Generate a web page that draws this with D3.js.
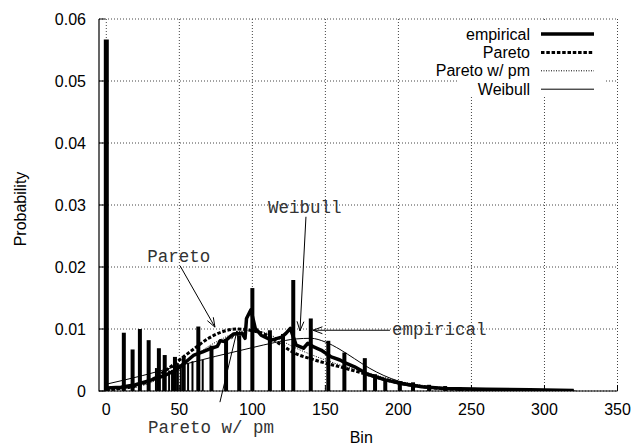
<!DOCTYPE html>
<html>
<head>
<meta charset="utf-8">
<script src="https://cdn.jsdelivr.net/npm/d3@7"></script>
<style>
body { margin: 0; background: #fff; }
</style>
</head>
<body>
<div id="chart"></div>
<script>
// empirical histogram, the smooth part of the curve
var emp_bins = [0, 10, 20, 30, 40, 47, 51, 56, 60, 66, 72, 76, 78, 81, 87, 93, 95, 96, 99, 102,
    106, 113, 120, 123, 126, 130, 135, 138, 142, 147, 154, 160, 164, 170, 179, 191, 202, 216, 232, 260, 290, 320]
var emp_values = [0.0005, 0.0006, 0.0010, 0.0017, 0.0025, 0.0033, 0.0040, 0.0050, 0.0058, 0.0063, 0.0069, 0.0072, 0.0081, 0.0080, 0.0092, 0.0093, 0.0085, 0.0117, 0.0131, 0.0101,
    0.0090, 0.0082, 0.0087, 0.0093, 0.0101, 0.0074, 0.0069, 0.0077, 0.0071, 0.0066, 0.0055, 0.0050, 0.0045, 0.0039, 0.0027, 0.0018, 0.0012, 0.0007, 0.0004, 0.0003, 0.0002, 0.0001]

// spikes of the empirical histogram (bins that collect a lot of mass)
var spike_bins = [0, 12, 18, 23, 29, 36, 40, 47, 53, 63, 72, 82, 91, 100, 112, 121, 128, 140, 152, 163,
    177, 184, 191, 201, 210, 221, 232, 242, 252, 262, 272, 282, 292, 302, 312, 320]
var spike_values = [0.0567, 0.0094, 0.0067, 0.0100, 0.0082, 0.0069, 0.0058, 0.0055, 0.0056, 0.0104, 0.0073, 0.0084, 0.0090, 0.0166, 0.0098, 0.0092, 0.0179, 0.0117, 0.0081, 0.0062,
    0.0053, 0.0027, 0.0019, 0.0016, 0.0014, 0.0010, 0.0008, 0.0006, 0.0005, 0.0004, 0.0003, 0.0003, 0.0002, 0.0002, 0.0002, 0.0001]
var minor_bins = [34, 39, 43, 45, 49, 51, 56, 59, 66]
var minor_values = [0.0037, 0.0030, 0.0033, 0.0034, 0.0045, 0.0040, 0.0045, 0.0048, 0.0050]

// fitted models
var fit_bins = [0, 10, 20, 30, 40, 50, 60, 70, 80, 90, 100, 110, 120, 130, 140, 150, 160, 175, 190, 200, 220, 250, 280, 320]
var pareto_values = [0.0002, 0.0004, 0.0008, 0.0017, 0.0032, 0.0050, 0.0068, 0.0085, 0.0096, 0.0100, 0.0097, 0.0090, 0.0074, 0.0060, 0.0052, 0.0045, 0.0039, 0.0029, 0.0019, 0.0013, 0.0006, 0.0002, 0.0001, 0.00003]
var pareto_pm_values = [0.0002, 0.0003, 0.0006, 0.0013, 0.0025, 0.0040, 0.0056, 0.0072, 0.0085, 0.0095, 0.0098, 0.0093, 0.0081, 0.0069, 0.0059, 0.0050, 0.0042, 0.0032, 0.0022, 0.0016, 0.0008, 0.0003, 0.0001, 0.00003]
var weibull_bins = [0, 25, 50, 75, 100, 115, 130, 140, 150, 160, 170, 180, 190, 200, 215, 230, 260, 290, 320]
var weibull_values = [0.0011, 0.0025, 0.0041, 0.0056, 0.0070, 0.0078, 0.0084, 0.0085, 0.0079, 0.0067, 0.0052, 0.0037, 0.0025, 0.0016, 0.0008, 0.0004, 0.0001, 0.00002, 0]

var x_ticks = [0, 50, 100, 150, 200, 250, 300, 350]
var y_ticks = [0, 0.01, 0.02, 0.03, 0.04, 0.05, 0.06]
var legend_names = ['empirical', 'Pareto', 'Pareto w/ pm', 'Weibull']

// labels with arrows, placed in data units: text start, arrow tail, arrow head
var notes = [
    { label: 'Pareto', tx: 28, ty: 0.0208, x1: 50.5, y1: 0.0202, x2: 74.4, y2: 0.0103 },
    { label: 'Weibull', tx: 110.7, ty: 0.0287, x1: 136.7, y1: 0.0281, x2: 132.6, y2: 0.0097 },
    { label: 'empirical', tx: 195.6, ty: 0.0090, x1: 194.2, y1: 0.0098, x2: 141.5, y2: 0.0098 },
    { label: 'Pareto w/ pm', tx: 28.6, ty: -0.0068, x1: 77.8, y1: -0.0018, x2: 89.5, y2: 0.0097 }
]

var width = 641, height = 446
var m_left = 99, m_right = 617.5, m_top = 19, m_bottom = 391

var svg = d3.select('#chart')
    .append('svg')
    .attr('width', width)
    .attr('height', height)
    .style('font-family', '"Liberation Sans", Arial, sans-serif')

var x = d3.scaleLinear().domain([-5, 350]).range([m_left, m_right])
var y = d3.scaleLinear().domain([0, 0.06]).range([m_bottom, m_top])

svg.append('clipPath').attr('id', 'clip')
    .append('rect')
    .attr('x', m_left).attr('y', m_top)
    .attr('width', m_right - m_left).attr('height', m_bottom - m_top)

// dotted grid (also makes the top and right edges)
svg.append('g').selectAll('line')
    .data(x_ticks)
    .enter()
    .append('line')
    .attr('x1', d => x(d)).attr('x2', d => x(d))
    .attr('y1', m_top).attr('y2', m_bottom)
    .attr('stroke', '#444')
    .attr('stroke-dasharray', '1,2')
svg.append('g').selectAll('line')
    .data(y_ticks)
    .enter()
    .append('line')
    .attr('x1', m_left).attr('x2', m_right)
    .attr('y1', d => y(d)).attr('y2', d => y(d))
    .attr('stroke', '#444')
    .attr('stroke-dasharray', '1,2')

var plot = svg.append('g').attr('clip-path', 'url(#clip)')

function curve_line(bins, values, curve) {
    return d3.line()
        .x(d => x(d[0]))
        .y(d => y(d[1]))
        .curve(curve)(d3.zip(bins, values))
}

// fitted models
plot.append('path')
    .attr('d', curve_line(weibull_bins, weibull_values, d3.curveMonotoneX))
    .attr('fill', 'none').attr('stroke', '#000').attr('stroke-width', 1)
plot.append('path')
    .attr('d', curve_line(fit_bins, pareto_pm_values, d3.curveMonotoneX))
    .attr('fill', 'none').attr('stroke', '#000').attr('stroke-width', 1)
    .attr('stroke-dasharray', '1,1.5')
plot.append('path')
    .attr('d', curve_line(fit_bins, pareto_values, d3.curveMonotoneX))
    .attr('fill', 'none').attr('stroke', '#000').attr('stroke-width', 3)
    .attr('stroke-dasharray', '3.5,1.8')

// empirical: spikes and curve
plot.append('g').selectAll('line')
    .data(d3.zip(minor_bins, minor_values))
    .enter()
    .append('line')
    .attr('x1', d => x(d[0])).attr('x2', d => x(d[0]))
    .attr('y1', y(0)).attr('y2', d => y(d[1]))
    .attr('stroke', '#000').attr('stroke-width', 2)
plot.append('g').selectAll('line')
    .data(d3.zip(spike_bins, spike_values))
    .enter()
    .append('line')
    .attr('x1', d => x(d[0])).attr('x2', d => x(d[0]))
    .attr('y1', y(0)).attr('y2', d => y(d[1]))
    .attr('stroke', '#000')
    .attr('stroke-width', (d, i) => i == 0 ? 5 : 4)
plot.append('path')
    .attr('d', curve_line(emp_bins, emp_values, d3.curveLinear))
    .attr('fill', 'none').attr('stroke', '#000').attr('stroke-width', 3.5)
    .attr('stroke-linejoin', 'round')

// border on the left and bottom only, ticks point inward
svg.append('path')
    .attr('d', `M${m_left},${m_top}V${m_bottom}H${m_right}`)
    .attr('fill', 'none').attr('stroke', '#000').attr('stroke-width', 1.2)
svg.append('g').selectAll('line')
    .data(y_ticks)
    .enter()
    .append('line')
    .attr('x1', m_left).attr('x2', m_left + 6)
    .attr('y1', d => y(d)).attr('y2', d => y(d))
    .attr('stroke', '#000')
svg.append('g').selectAll('line')
    .data(x_ticks)
    .enter()
    .append('line')
    .attr('x1', d => x(d)).attr('x2', d => x(d))
    .attr('y1', m_bottom).attr('y2', m_bottom - 6)
    .attr('stroke', '#000')

// tick labels
svg.append('g').selectAll('text')
    .data(y_ticks)
    .enter()
    .append('text')
    .attr('x', m_left - 13)
    .attr('y', d => y(d))
    .attr('dy', '0.35em')
    .attr('text-anchor', 'end')
    .style('font-size', '16px')
    .text(d => d3.format('')(d))
svg.append('g').selectAll('text')
    .data(x_ticks)
    .enter()
    .append('text')
    .attr('x', d => x(d))
    .attr('y', m_bottom + 24)
    .attr('text-anchor', 'middle')
    .style('font-size', '16px')
    .text(d => d)

svg.append('text')
    .attr('transform', `translate(26,${(m_top + m_bottom) / 2 + 4}) rotate(-90)`)
    .attr('text-anchor', 'middle')
    .style('font-size', '16px')
    .text('Probability')
svg.append('text')
    .attr('x', (m_left + m_right) / 2 + 3)
    .attr('y', 443)
    .attr('text-anchor', 'middle')
    .style('font-size', '16px')
    .text('Bin')

// legend, on an opaque box
var legend = svg.append('g')
legend.append('rect')
    .attr('x', 458).attr('y', 22)
    .attr('width', 146).attr('height', 75)
    .attr('fill', '#fff')
var legend_styles = [
    { w: 3.5, dash: null },
    { w: 3, dash: '3.5,1.8' },
    { w: 1, dash: '1,1.5' },
    { w: 1, dash: null }
]
var rows = legend.selectAll('g')
    .data(legend_names)
    .enter()
    .append('g')
    .attr('transform', (d, i) => `translate(0,${34 + i * 18.4})`)
rows.append('text')
    .attr('x', 530)
    .attr('dy', '0.35em')
    .attr('text-anchor', 'end')
    .style('font-size', '16px')
    .text(d => d)
rows.append('line')
    .attr('x1', 541).attr('x2', 594)
    .attr('stroke', '#000')
    .attr('stroke-width', (d, i) => legend_styles[i].w)
    .attr('stroke-dasharray', (d, i) => legend_styles[i].dash)

// annotations with open arrow heads
var note_g = svg.append('g')
notes.forEach(function (n) {
    var ax = x(n.x1), ay = y(n.y1), bx = x(n.x2), by = y(n.y2)
    var a = Math.atan2(by - ay, bx - ax)
    var hl = 10, hw = 0.35
    note_g.append('line')
        .attr('x1', ax).attr('y1', ay).attr('x2', bx).attr('y2', by)
        .attr('stroke', '#000').attr('stroke-width', 1)
    note_g.append('path')
        .attr('d', `M${bx - hl * Math.cos(a - hw)},${by - hl * Math.sin(a - hw)}L${bx},${by}L${bx - hl * Math.cos(a + hw)},${by - hl * Math.sin(a + hw)}`)
        .attr('fill', 'none').attr('stroke', '#000').attr('stroke-width', 1)
    note_g.append('text')
        .attr('x', x(n.tx))
        .attr('y', y(n.ty))
        .attr('fill', '#333')
        .style('font-family', '"Liberation Mono", "Courier New", monospace')
        .style('font-size', '17.5px')
        .text(n.label)
})
</script>
</body>
</html>
